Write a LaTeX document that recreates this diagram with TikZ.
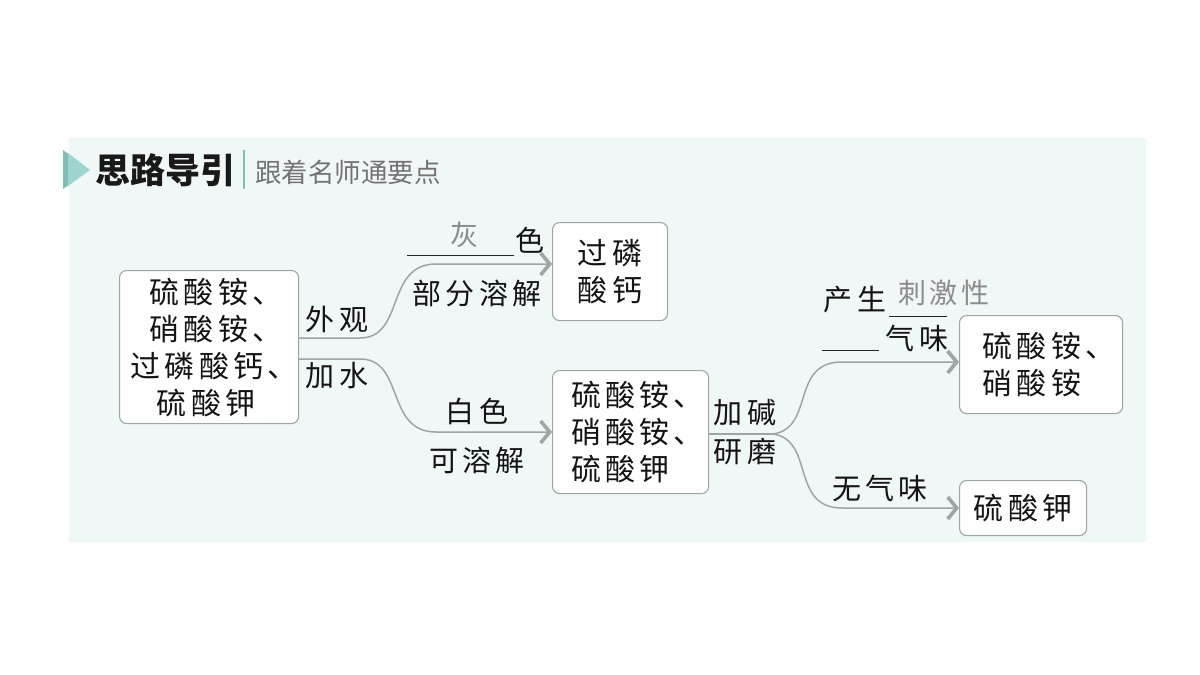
\documentclass[tikz,border=0pt]{standalone}
\usepackage{fontspec}
\usetikzlibrary{arrows.meta}
\newfontfamily\cjk[LetterSpace=14]{Noto Sans CJK SC}
\newfontfamily\cjktitle{Noto Sans CJK SC}
\definecolor{panelc}{HTML}{F0F8F7}
\definecolor{linec}{HTML}{9FA5A5}
\definecolor{marka}{HTML}{9FD5CF}
\definecolor{markb}{HTML}{7FBDB7}
\definecolor{graytx}{HTML}{8C8C8C}
\newcommand{\ind}[1]{\hspace*{#1pt}}
\tikzset{
  x=1pt,y=-1pt,
  box/.style={draw=linec,line width=1.1pt,fill=white,rounded corners=7pt,inner sep=0pt,anchor=north west,align=center,font=\fontsize{30}{37}\cjk,text=black!92},
  lab/.style={inner sep=0pt,font=\fontsize{29}{34}\cjk,text=black!92},
  ans/.style={inner sep=0pt,font=\fontsize{28}{34}\cjk,text=graytx},
  conn/.style={draw=linec,line width=1.5pt},
  arr/.style={draw=linec,line width=1.5pt,-{Straight Barb[length=9pt,width=22pt,line width=3.6pt]}},
  blank/.style={draw=black!85,line width=1pt},
}
\begin{document}
\begin{tikzpicture}
\useasboundingbox (0,0) rectangle (1200,675);
\fill[panelc] (69,138) rectangle (1146,542);
% marker
\fill[markb] (63,150) -- (70,155) -- (70,184) -- (63,189) -- cycle;
\fill[marka] (68,153) -- (90,170) -- (68,186) -- cycle;
\node[inner sep=0pt,font=\fontsize{35}{40}\cjktitle\bfseries,text=black!90] (title) at (165.5,170) {思路导引};
\draw[draw=markb,line width=1.5pt] (244,150) -- (244,189);
\node[inner sep=0pt,font=\fontsize{26.5}{30}\cjktitle,text=black!55] (sub) at (348,172) {跟着名师通要点};
% boxes
\node[box,minimum width=179pt,minimum height=153pt] (A) at (119,270) {\ind{14}硫酸铵、\\\ind{14}硝酸铵、\\\ind{10}过磷酸钙、\\硫酸钾\ind{6}};
\node[box,minimum width=115pt,minimum height=98pt] (B) at (552,222) {过磷\\酸钙};
\node[box,minimum width=156pt,minimum height=123pt,align=left] (C) at (552,370) {\ind{14}硫酸铵、\\\ind{14}硝酸铵、\\\ind{14}硫酸钾};
\node[box,minimum width=163pt,minimum height=98pt,align=left] (D) at (959,315) {\ind{16}硫酸铵、\\\ind{16}硝酸铵};
\node[box,minimum width=127pt,minimum height=55pt] (E) at (959,480) {硫酸钾};
% connector end points
\coordinate (a1) at (298,338);
\coordinate (a2) at (298,359);
\coordinate (b1) at (552,264);
\coordinate (c1) at (552,432);
\coordinate (c2) at (708,434);
\coordinate (k) at (773,434);
\coordinate (d1) at (959,362);
\coordinate (e1) at (959,508);
\draw[arr] (a1) -- (360,338) .. controls (405,338) and (385,264) .. (436,264) -- (b1);
\draw[arr] (a2) -- (360,359) .. controls (405,359) and (385,432) .. (436,432) -- (c1);
\draw[conn] (c2) -- (k);
\draw[arr] (k) .. controls (815,428) and (790,362) .. (842,362) -- (d1);
\draw[arr] (k) .. controls (815,440) and (790,508) .. (842,508) -- (e1);
% underlines
\coordinate (u1) at (407,255); \coordinate (u2) at (514,255);
\coordinate (u3) at (889,316); \coordinate (u4) at (947,316);
\coordinate (u5) at (822,350); \coordinate (u6) at (879,350);
\draw[blank] (u1) -- (u2);
\draw[blank] (u3) -- (u4);
\draw[blank] (u5) -- (u6);
% labels
\node[lab] (l1) at (337,319) {外观};
\node[lab] (l2) at (337,376) {加水};
\node[ans] (l3) at (464,235) {灰};
\node[lab] (l4) at (530,240) {色};
\node[lab] (l5) at (477,293) {部分溶解};
\node[lab] (l6) at (477,411) {白色};
\node[lab] (l7) at (477,460) {可溶解};
\node[lab] (l8) at (745,413) {加碱};
\node[lab] (l9) at (745,452) {研磨};
\node[lab] (l10) at (855,300) {产生};
\node[ans] (l11) at (944,293) {刺激性};
\node[lab] (l12) at (917,338) {气味};
\node[lab] (l13) at (880,488) {无气味};
\end{tikzpicture}
\end{document}
